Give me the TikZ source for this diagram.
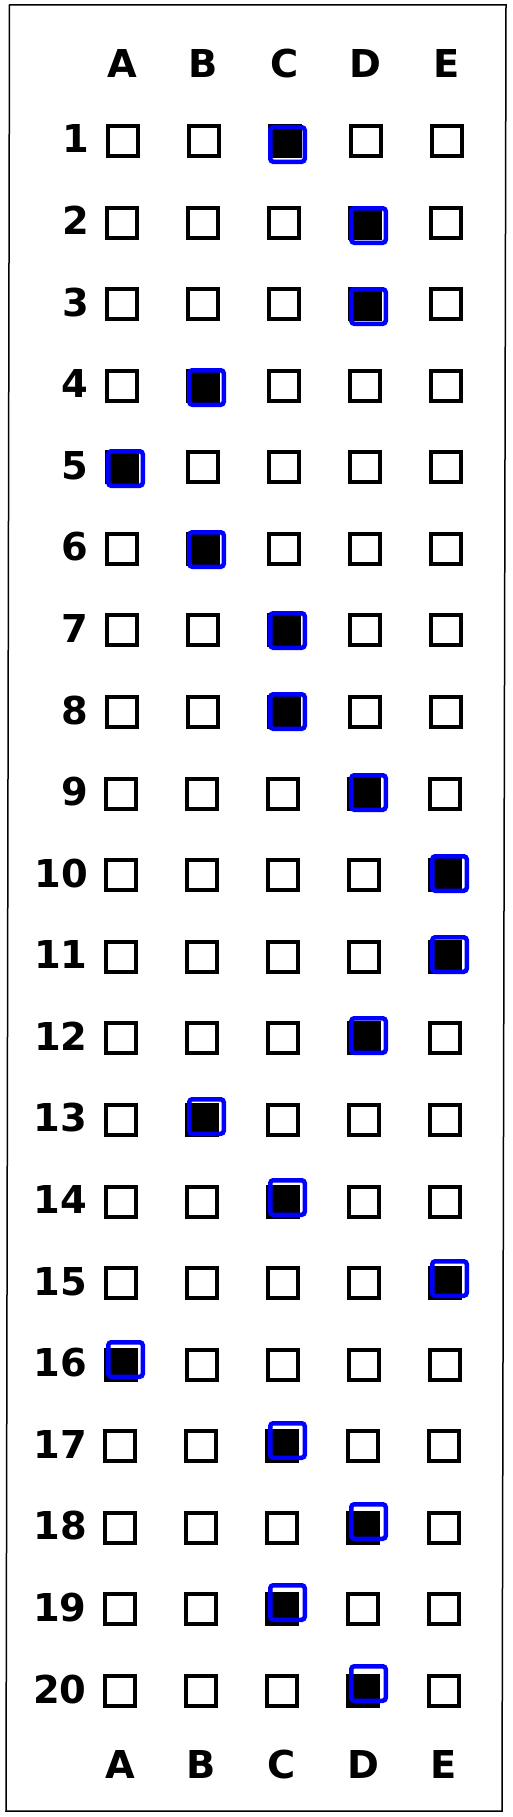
\documentclass[tikz,border=0pt]{standalone}
\usepackage{fontspec}
\setmainfont{DejaVu Sans}
\definecolor{hlblue}{RGB}{0,0,255}
\begin{document}
\begin{tikzpicture}[x=1pt,y=-1pt,
  lbl/.style={font=\fontsize{38.4}{40}\selectfont\bfseries, inner sep=0pt, outer sep=0pt},
  optbox/.style={draw=black, line width=4pt, minimum size=30pt, inner sep=0pt, outer sep=0pt},
  markbox/.style={optbox, fill=black},
  hlbox/.style={draw=hlblue, line width=4.5pt, rounded corners=3pt, minimum size=34.5pt, inner sep=0pt, outer sep=0pt},
  frameline/.style={draw=black, line width=1.5pt}]
\useasboundingbox (0,0) rectangle (512,1817);
% frame
\coordinate (f1) at (9.5,5);
\coordinate (f2) at (506,5);
\coordinate (f3) at (502,1811);
\coordinate (f4) at (6,1811);
\draw[frameline] (f1) -- (f2) -- (f3) -- (f4) -- cycle;
% column headers
\foreach \c/\L in {1/A,2/B,3/C,4/D,5/E}{
  \node[lbl, anchor=base] (top\L) at ({122.5+81*(\c-1)}, 78) {\L};
  \node[lbl, anchor=base] (bot\L) at ({120+81*(\c-1)}, 1778) {\L};
}
% rows
\foreach \r/\ans in {1/3,2/4,3/4,4/2,5/1,6/2,7/3,8/3,9/4,10/5,11/5,12/4,13/2,14/3,15/5,16/1,17/3,18/4,19/3,20/4}{
  \pgfmathsetmacro\yc{141+81.58*(\r-1)}
  \pgfmathsetmacro\dx{-2.5*(\r-1)/19}
  \node[lbl, anchor=base east] (n\r) at ({89+\dx}, {\yc+12}) {\r};
  \foreach \c in {1,...,5}{
    \pgfmathsetmacro\xc{122.5+81*(\c-1)+\dx}
    \ifnum\c=\ans\relax
      \node[markbox] (b\r-\c) at (\xc,\yc) {};
    \else
      \node[optbox] (b\r-\c) at (\xc,\yc) {};
    \fi
  }
  \node[hlbox] (h\r) at ({125.5+81*(\ans-1)}, {144.5+81*(\r-1)}) {};
}
\end{tikzpicture}
\end{document}
